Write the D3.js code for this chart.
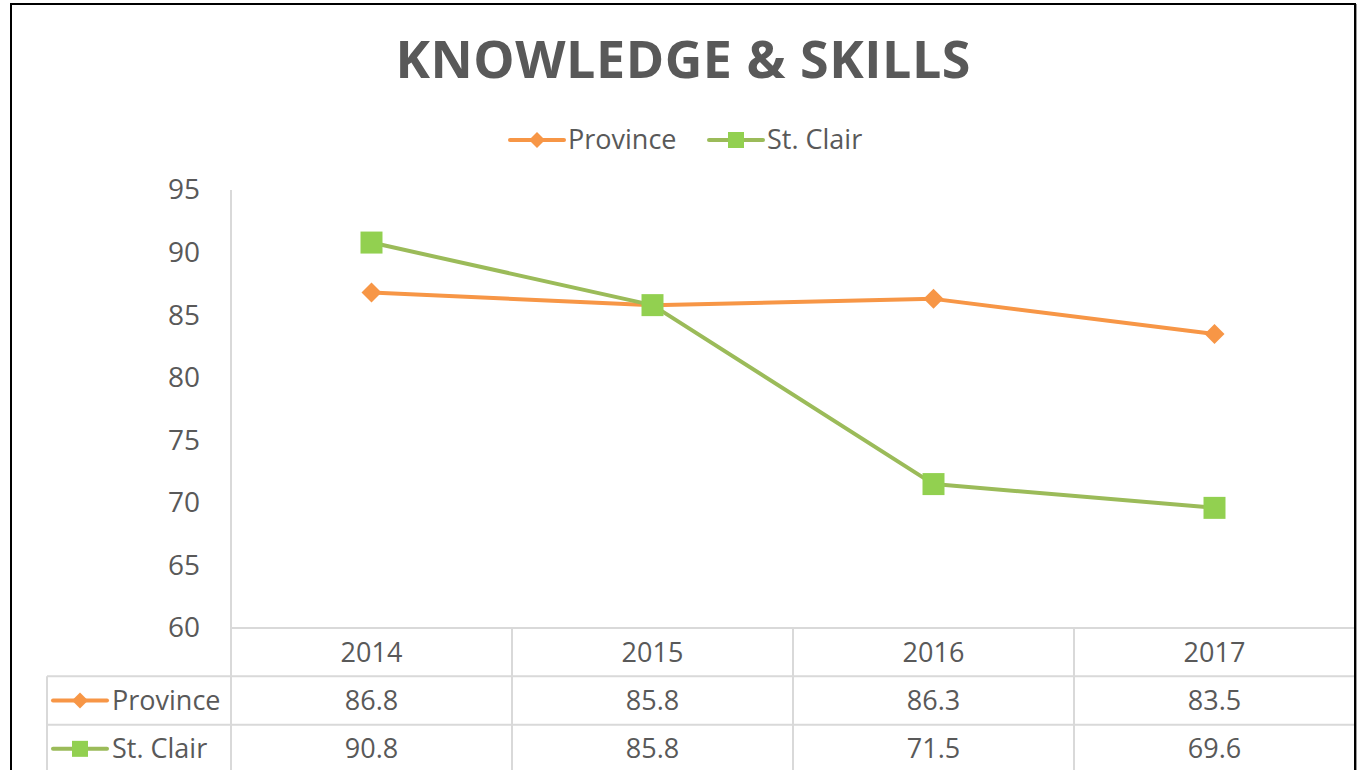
<!DOCTYPE html>
<html>
<head>
<meta charset="utf-8">
<script src="https://cdn.jsdelivr.net/npm/d3@7"></script>
<style>
  html, body { margin: 0; padding: 0; background: #fff; }
  svg { display: block; }
  text { font-family: "Open Sans", "Liberation Sans", sans-serif; fill: #595959; }
</style>
</head>
<body>
<svg id="chart" width="1357" height="770"></svg>
<script>
const title = "KNOWLEDGE & SKILLS";
const years = ["2014", "2015", "2016", "2017"];
const seriesNames = ["Province", "St. Clair"];
const province = [86.8, 85.8, 86.3, 83.5];
const stClair = [90.8, 85.8, 71.5, 69.6];
const yTicks = [60, 65, 70, 75, 80, 85, 90, 95];

const series = [
  { name: seriesNames[0], values: province, line: "#F79646", fill: "#F79646", marker: "diamond" },
  { name: seriesNames[1], values: stClair, line: "#9BBB59", fill: "#92D050", marker: "square" }
];

const svg = d3.select("#chart");
const W = 1357, H = 770;
const plotL = 231, plotR = 1355, plotT = 190, plotB = 628;
const tableL = 47, tableB = 773;
const gridColor = "#D9D9D9";

const x = d3.scaleBand().domain(years).range([plotL, plotR]);
const y = d3.scaleLinear().domain([60, 95]).range([plotB, plotT]);
const rowNames = ["header"].concat(seriesNames);
const yRow = d3.scaleBand().domain(rowNames).range([plotB, tableB]);

function markerPath(type, s) {
  if (type === "diamond") return `M0,${-s}L${s},0L0,${s}L${-s},0Z`;
  return `M${-s},${-s}H${s}V${s}H${-s}Z`;
}

// Title
svg.append("text")
  .attr("x", 683).attr("y", 78)
  .attr("text-anchor", "middle")
  .attr("font-size", 52).attr("font-weight", "bold")
  .attr("textLength", 575).attr("lengthAdjust", "spacing")
  .text(title);

// Legend
const legendPos = [{ x: 510, tx: 568 }, { x: 709, tx: 767 }];
series.forEach((s, i) => {
  const g = svg.append("g").attr("transform", `translate(${legendPos[i].x},140)`);
  g.append("line").attr("x1", 0).attr("x2", 54).attr("y1", 0).attr("y2", 0)
    .attr("stroke", s.line).attr("stroke-width", 4).attr("stroke-linecap", "round");
  g.append("path").attr("d", markerPath(s.marker, 8)).attr("transform", "translate(27,0)")
    .attr("fill", s.fill);
  svg.append("text").attr("x", legendPos[i].tx).attr("y", 140).attr("dy", "0.35em")
    .attr("font-size", 27).text(s.name);
});

// Y axis labels
const yAxis = d3.axisLeft(y).tickValues(yTicks).tickSize(0).tickPadding(31);
const yg = svg.append("g").attr("transform", `translate(${plotL},0)`).call(yAxis);
yg.select(".domain").remove();
yg.selectAll("text").attr("font-size", 28).attr("fill", "#595959")
  .style("font-family", '"Open Sans", "Liberation Sans", sans-serif');

// Grid / table lines
const grid = svg.append("g").attr("stroke", gridColor).attr("stroke-width", 2);
grid.append("line").attr("x1", plotL).attr("x2", plotL).attr("y1", plotT).attr("y2", H);
grid.append("line").attr("x1", plotL).attr("x2", plotR).attr("y1", plotB).attr("y2", plotB);
years.slice(1).forEach(yr => {
  grid.append("line").attr("x1", x(yr)).attr("x2", x(yr)).attr("y1", plotB).attr("y2", H);
});
seriesNames.forEach(n => {
  grid.append("line").attr("x1", tableL).attr("x2", plotR)
    .attr("y1", yRow(n)).attr("y2", yRow(n));
});
grid.append("line").attr("x1", tableL).attr("x2", tableL).attr("y1", yRow(seriesNames[0])).attr("y2", H);

// Table text
const tbl = svg.append("g");
years.forEach(yr => {
  tbl.append("text").attr("x", x(yr) + x.bandwidth() / 2)
    .attr("y", yRow("header") + yRow.bandwidth() / 2).attr("dy", "0.35em")
    .attr("text-anchor", "middle").attr("font-size", 27).text(yr);
});
series.forEach(s => {
  const cy = yRow(s.name) + yRow.bandwidth() / 2;
  s.values.forEach((v, i) => {
    tbl.append("text").attr("x", x(years[i]) + x.bandwidth() / 2).attr("y", cy).attr("dy", "0.35em")
      .attr("text-anchor", "middle").attr("font-size", 27).text(d3.format(".1f")(v));
  });
  const g = tbl.append("g").attr("transform", `translate(53,${cy})`);
  g.append("line").attr("x1", 0).attr("x2", 54).attr("y1", 0).attr("y2", 0)
    .attr("stroke", s.line).attr("stroke-width", 4).attr("stroke-linecap", "round");
  g.append("path").attr("d", markerPath(s.marker, 8)).attr("transform", "translate(27,0)")
    .attr("fill", s.fill);
  tbl.append("text").attr("x", 112).attr("y", cy).attr("dy", "0.35em")
    .attr("font-size", 27).text(s.name);
});

// Lines and markers
const line = d3.line().x((d, i) => x(years[i]) + x.bandwidth() / 2).y(d => y(d));
series.forEach(s => {
  svg.append("path").datum(s.values).attr("d", line)
    .attr("fill", "none").attr("stroke", s.line).attr("stroke-width", 4)
    .attr("stroke-linejoin", "round").attr("stroke-linecap", "round");
  svg.append("g").selectAll("path").data(s.values).join("path")
    .attr("d", markerPath(s.marker, s.marker === "diamond" ? 10 : 11))
    .attr("transform", (d, i) => `translate(${x(years[i]) + x.bandwidth() / 2},${y(d)})`)
    .attr("fill", s.fill);
});

// Outer border
svg.append("rect").attr("x", 11).attr("y", 4).attr("width", 1344).attr("height", 820)
  .attr("fill", "none").attr("stroke", "#000").attr("stroke-width", 2);
svg.append("line").attr("x1", 1356.5).attr("x2", 1356.5).attr("y1", 4).attr("y2", H)
  .attr("stroke", "#999").attr("stroke-width", 1);
</script>
</body>
</html>
